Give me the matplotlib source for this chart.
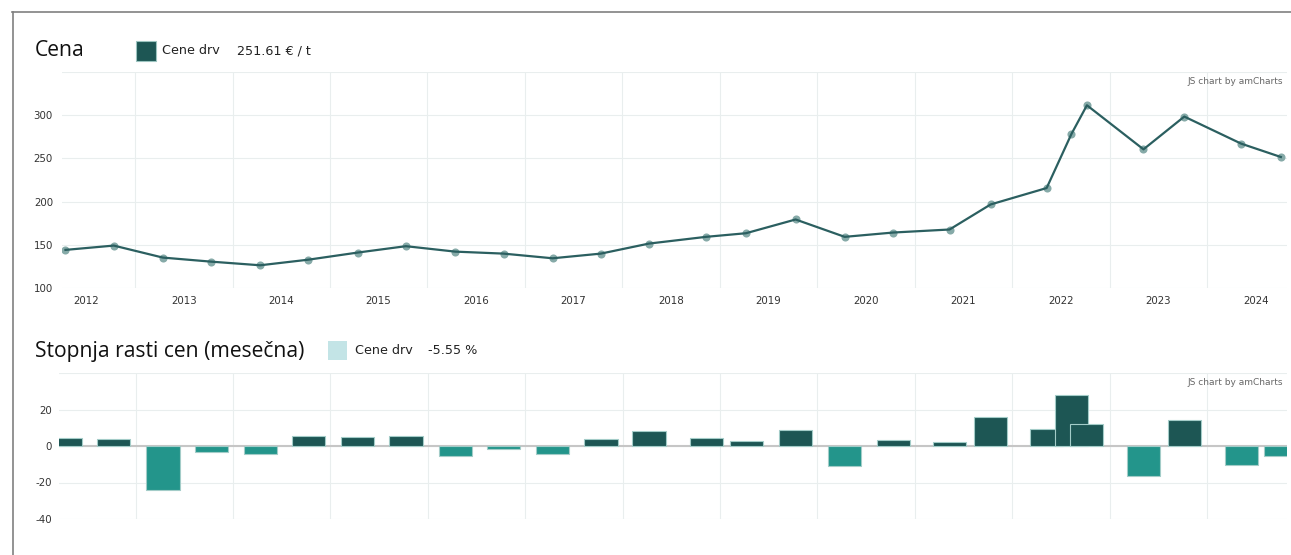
import matplotlib.pyplot as plt
import matplotlib.dates as mdates
import pandas as pd
from matplotlib.patches import Rectangle
from matplotlib.lines import Line2D

# Cene drv - price (EUR / t) and growth rate (%)
dates = pd.to_datetime([
    '2012-04-14', '2012-10-12', '2013-04-14', '2013-10-12', '2014-04-14',
    '2014-10-12', '2015-04-14', '2015-10-12', '2016-04-14', '2016-10-12',
    '2017-04-14', '2017-10-12', '2018-04-10', '2018-11-10', '2019-04-09',
    '2019-10-12', '2020-04-13', '2020-10-12', '2021-05-11', '2021-10-12',
    '2022-05-10', '2022-08-11', '2022-10-08', '2023-05-08', '2023-10-08',
    '2024-05-08', '2024-10-04'])
prices = [144.1, 149.1, 135.2, 130.5, 126.3, 132.8, 141.0, 148.4, 142.1, 139.8,
          134.4, 139.8, 151.4, 159.2, 163.4, 179.3, 159.2, 164.2, 167.7, 196.7,
          215.7, 278.3, 311.5, 260.5, 298.4, 267.1, 251.61]
growth = [4.3, 3.7, -24.3, -3.2, -4.3, 5.7, 5.2, 5.7, -5.4, -1.4,
          -4.3, 3.7, 8.0, 4.6, 2.7, 8.9, -11.1, 3.2, 2.1, 16.0,
          9.5, 28.0, 12.0, -16.4, 14.0, -10.5, -5.55]
years = list(range(2012, 2025))

W, H = 1291, 555
dark = '#1d5654'
neg = '#23958b'
line_col = '#2b5f60'
grid_col = '#e9eeee'


def fx(px):
    return px / W


def fy(py):
    return 1 - py / H


fig = plt.figure(figsize=(W / 100, H / 100), dpi=100)
ax1 = fig.add_axes([fx(62), fy(288), (1287 - 62) / W, (288 - 72) / H])
ax2 = fig.add_axes([fx(59), fy(519), (1287 - 59) / W, (519 - 373) / H])

# top: price line
ax1.plot(dates, prices, color=line_col, lw=1.6, zorder=3)
ax1.scatter(dates, prices, s=34, color='#86aaa8', zorder=2, linewidths=0)
ax1.set_ylim(100, 350)
ax1.set_yticks(range(100, 351, 50))
ax1.set_yticklabels([str(v) for v in range(100, 301, 50)] + [''])
ax1.set_xlim(pd.Timestamp('2012-04-01'), pd.Timestamp('2024-10-27'))

# bottom: growth bars
bar_cols = [dark if g >= 0 else neg for g in growth]
ax2.bar(dates, growth, width=124, color=bar_cols, edgecolor='#a3ccc8',
        linewidth=0.8, zorder=3)
ax2.axhline(0, color='#c6c6c6', lw=1.5, zorder=2)
ax2.set_ylim(-40, 40)
ax2.set_yticks([-40, -20, 0, 20, 40])
ax2.set_yticklabels(['-40', '-20', '0', '20', ''])
ax2.set_xlim(pd.Timestamp('2012-03-20'), pd.Timestamp('2024-10-27'))

for ax in (ax1, ax2):
    ax.xaxis.set_major_locator(mdates.YearLocator())
    ax.xaxis.set_major_formatter(plt.NullFormatter())
    ax.grid(True, color=grid_col, lw=0.8, zorder=0)
    ax.tick_params(length=0, labelsize=7.4, labelcolor='#333333')
    for s in ax.spines.values():
        s.set_visible(False)
ax1.tick_params(axis='y', pad=6.5)
ax2.tick_params(axis='y', pad=5)

# year labels centred between the year grid lines
ax1.set_xticks([pd.Timestamp(f'{y}-07-02') for y in years], minor=True)
ax1.set_xticklabels([str(y) for y in years], minor=True)
ax1.tick_params(axis='x', which='minor', length=0, labelsize=7.4,
                labelcolor='#333333', pad=5.5)

ax1.text(0.997, 0.958, 'JS chart by amCharts', transform=ax1.transAxes,
         ha='right', va='center', fontsize=6.5, color='#666666')
ax2.text(0.997, 0.938, 'JS chart by amCharts', transform=ax2.transAxes,
         ha='right', va='center', fontsize=6.5, color='#666666')

# titles and legends
fig.text(fx(35), fy(50), 'Cena', fontsize=15.2, family='Open Sans',
         va='center', color='#111111')
fig.add_artist(Rectangle((fx(136), fy(61)), 20 / W, 20 / H,
                         transform=fig.transFigure, facecolor=dark,
                         edgecolor='#9cc4c0', lw=0.8))
fig.text(fx(162), fy(51), 'Cene drv', fontsize=9.2, va='center', color='#222222')
fig.text(fx(237), fy(51), '251.61 € / t', fontsize=9.2, va='center', color='#222222')

fig.text(fx(35), fy(351), 'Stopnja rasti cen (mesečna)', fontsize=15.2,
         family='Open Sans', va='center', color='#111111')
fig.add_artist(Rectangle((fx(328), fy(360)), 19 / W, 19 / H,
                         transform=fig.transFigure, facecolor='#c3e4e6',
                         edgecolor='none'))
fig.text(fx(355), fy(351), 'Cene drv', fontsize=9.2, va='center', color='#222222')
fig.text(fx(428), fy(351), '-5.55 %', fontsize=9.2, va='center', color='#222222')

# frame lines
fig.add_artist(Line2D([fx(12), 1], [fy(12), fy(12)], transform=fig.transFigure,
                      color='#808080', lw=1.2))
fig.add_artist(Line2D([fx(13), fx(13)], [fy(12), 0], transform=fig.transFigure,
                      color='#808080', lw=1.2))

fig.savefig('out.png', dpi=100)
